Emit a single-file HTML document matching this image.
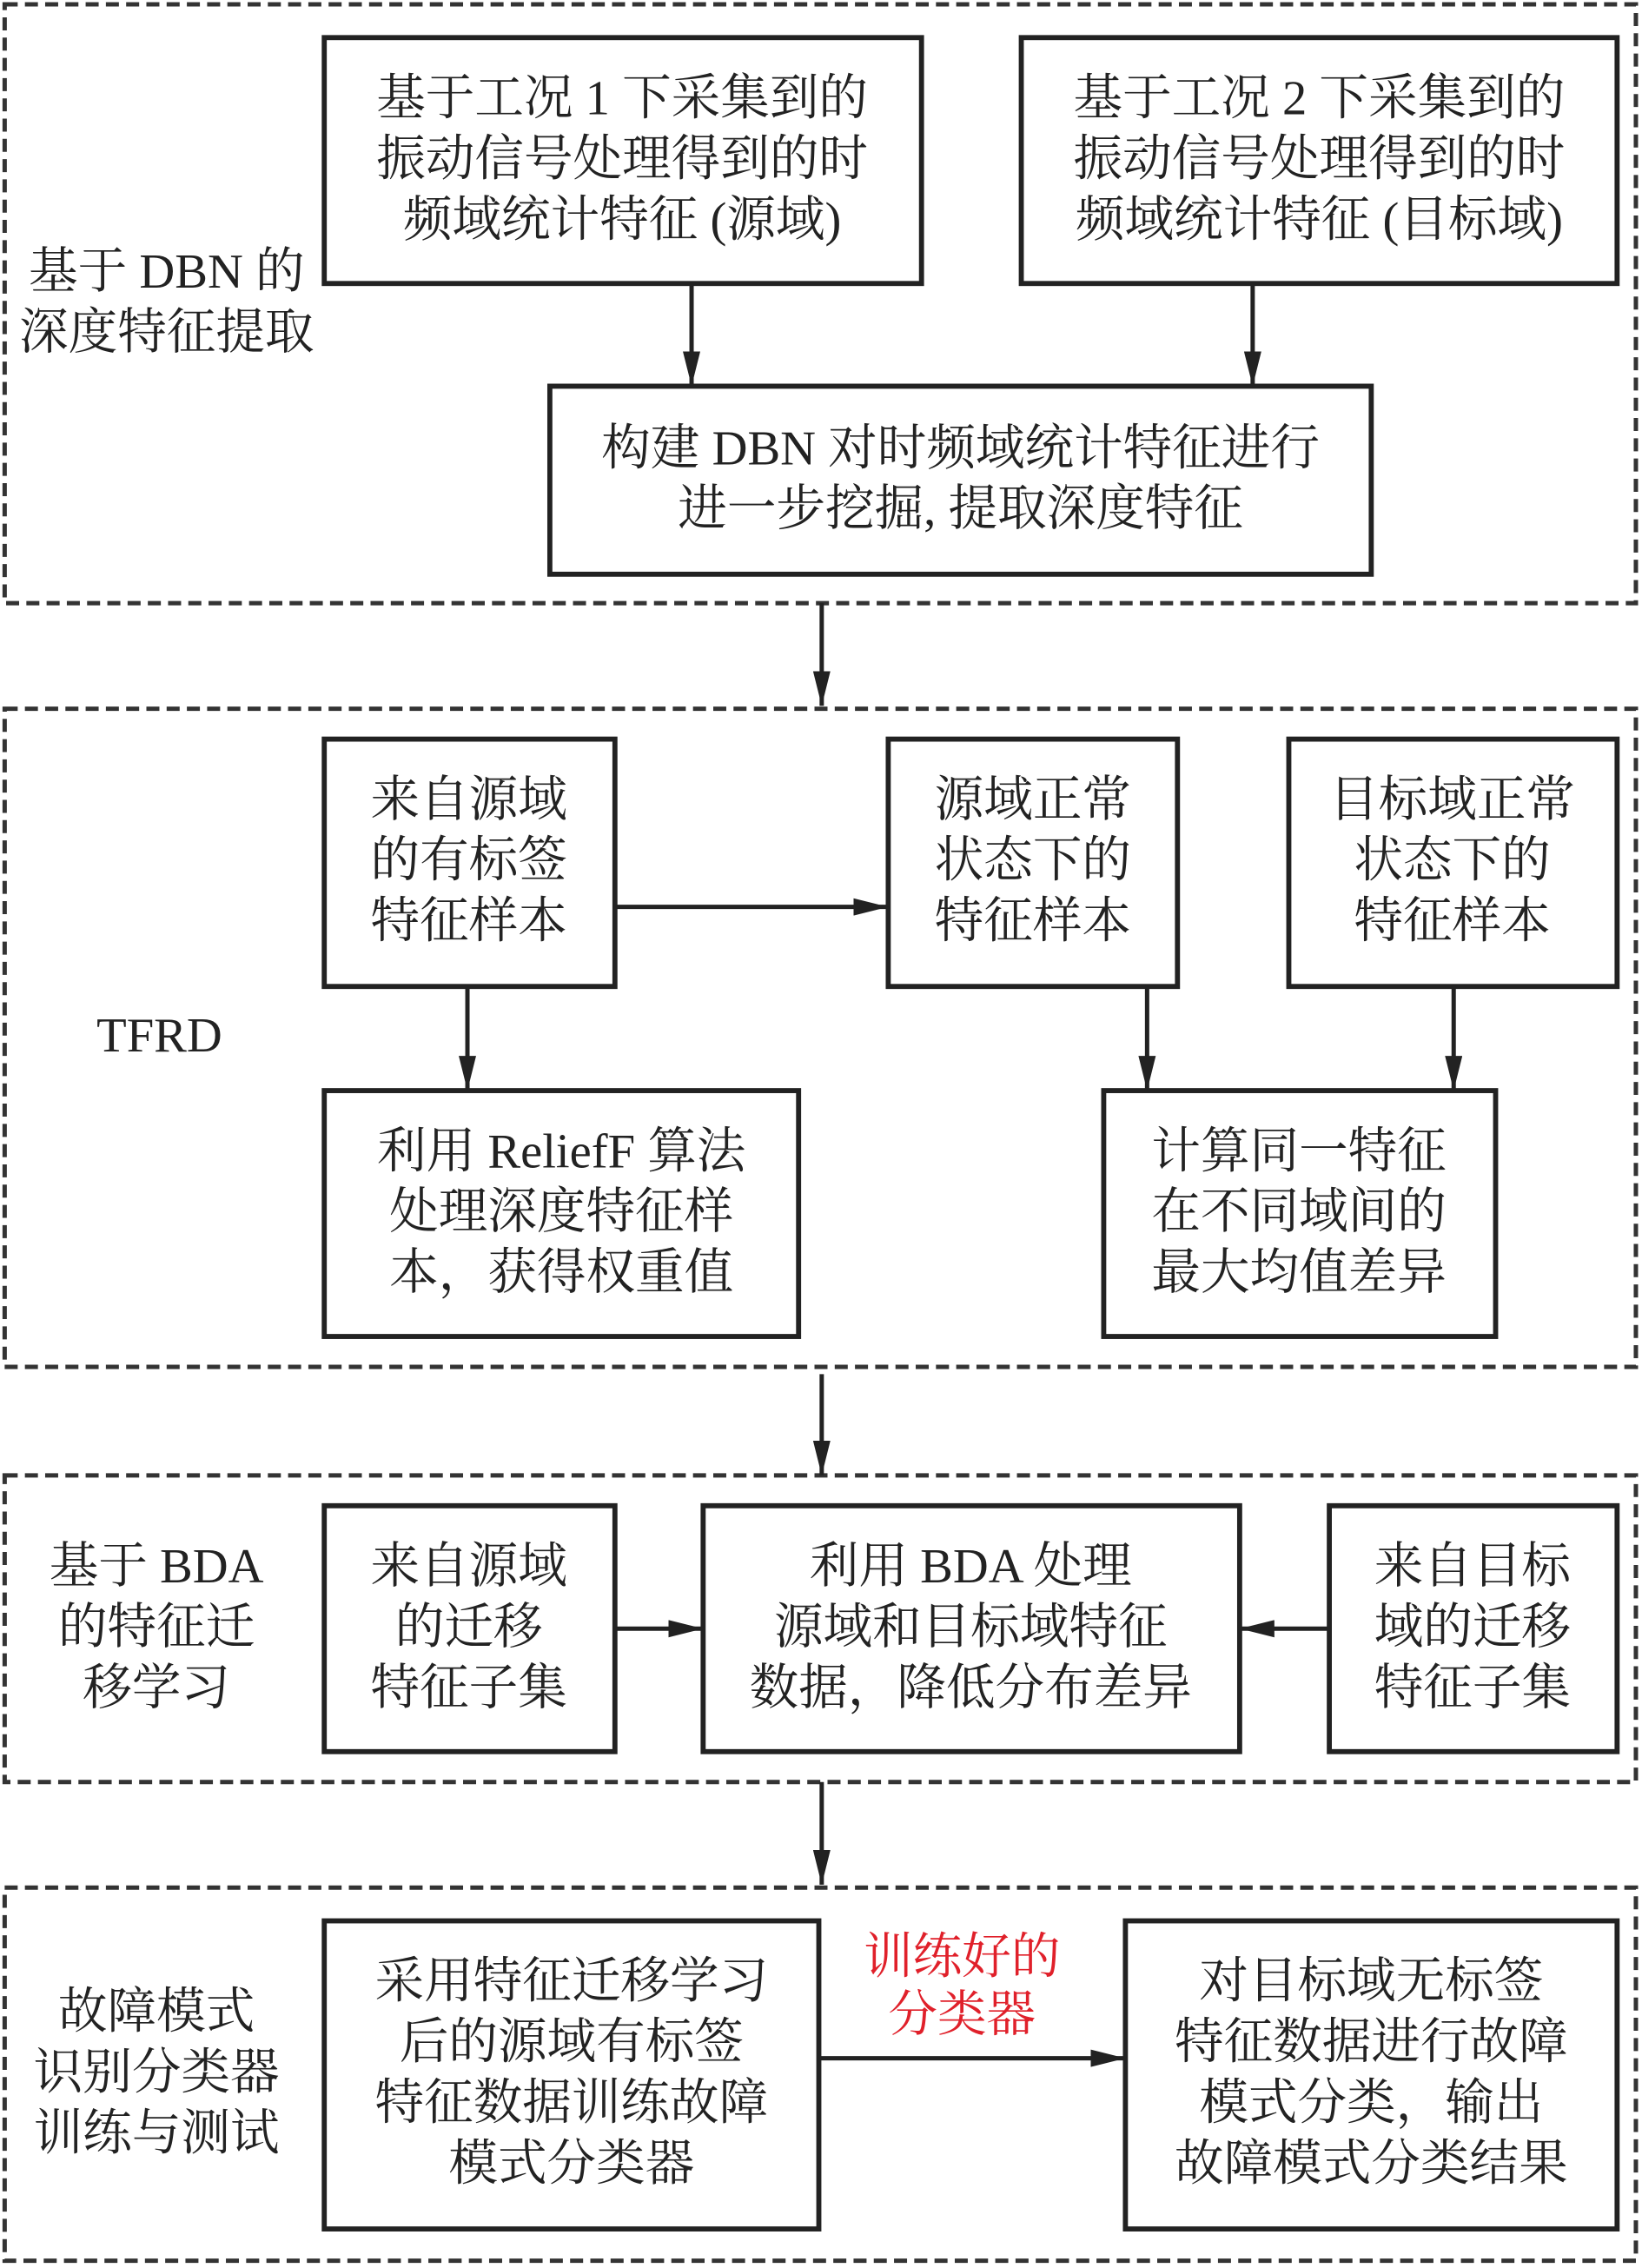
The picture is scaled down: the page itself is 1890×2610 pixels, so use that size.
<!DOCTYPE html>
<html><head><meta charset="utf-8">
<style>
html,body{margin:0;padding:0;background:#fff;}
svg{display:block;}
text{font-family:"Liberation Serif","Noto Serif CJK SC",serif;font-size:34px;fill:#222;text-anchor:middle;}
.red{fill:#e0202a;}
</style></head>
<body>
<svg width="1890" height="2610" viewBox="0 0 1135 1568" xmlns="http://www.w3.org/2000/svg">
<defs>
<marker id="a" viewBox="0 0 24 12" markerWidth="24" markerHeight="12" refX="24" refY="6" orient="auto" markerUnits="userSpaceOnUse">
<path d="M0,0 L24,6 L0,12 z" fill="#222"/>
</marker>
</defs>
<g fill="none" stroke="#333" stroke-width="3" stroke-dasharray="9,5">
<rect x="3" y="3" width="1128" height="414"/>
<rect x="3" y="490" width="1128" height="455"/>
<rect x="3" y="1020" width="1128" height="212"/>
<rect x="3" y="1305" width="1128" height="258"/>
</g>
<g fill="none" stroke="#222" stroke-width="3.5">
<rect x="224" y="26" width="413" height="170"/>
<rect x="706" y="26" width="412" height="170"/>
<rect x="380" y="267" width="568" height="130"/>
<rect x="224" y="511" width="201" height="171"/>
<rect x="614" y="511" width="200" height="171"/>
<rect x="891" y="511" width="227" height="171"/>
<rect x="224" y="754" width="328" height="170"/>
<rect x="763" y="754" width="271" height="170"/>
<rect x="224" y="1041" width="201" height="170"/>
<rect x="486" y="1041" width="371" height="170"/>
<rect x="919" y="1041" width="199" height="170"/>
<rect x="224" y="1328" width="342" height="213"/>
<rect x="778" y="1328" width="340" height="213"/>
</g>
<g stroke="#222" stroke-width="3" marker-end="url(#a)">
<line x1="478" y1="196" x2="478" y2="267"/>
<line x1="866" y1="196" x2="866" y2="267"/>
<line x1="568" y1="417" x2="568" y2="488"/>
<line x1="425" y1="627" x2="614" y2="627"/>
<line x1="323" y1="682" x2="323" y2="754"/>
<line x1="793" y1="682" x2="793" y2="754"/>
<line x1="1005" y1="682" x2="1005" y2="754"/>
<line x1="568" y1="950" x2="568" y2="1020"/>
<line x1="425" y1="1126" x2="486" y2="1126"/>
<line x1="919" y1="1126" x2="857" y2="1126"/>
<line x1="568" y1="1232" x2="568" y2="1303"/>
<line x1="566" y1="1423" x2="778" y2="1423"/>
</g>
<text x="430" y="79">基于工况 1 下采集到的</text>
<text x="430" y="121">振动信号处理得到的时</text>
<text x="430" y="163">频域统计特征 (源域)</text>
<text x="912" y="79">基于工况 2 下采集到的</text>
<text x="912" y="121">振动信号处理得到的时</text>
<text x="912" y="163">频域统计特征 (目标域)</text>
<text x="115" y="199">基于 DBN 的</text>
<text x="115" y="241">深度特征提取</text>
<text x="664" y="321">构建 DBN 对时频域统计特征进行</text>
<text x="664" y="363">进一步挖掘, 提取深度特征</text>
<text x="324" y="564">来自源域</text>
<text x="324" y="606">的有标签</text>
<text x="324" y="648">特征样本</text>
<text x="714" y="564">源域正常</text>
<text x="714" y="606">状态下的</text>
<text x="714" y="648">特征样本</text>
<text x="1004" y="564">目标域正常</text>
<text x="1004" y="606">状态下的</text>
<text x="1004" y="648">特征样本</text>
<text x="110" y="727">TFRD</text>
<text x="388" y="807">利用 ReliefF 算法</text>
<text x="388" y="849">处理深度特征样</text>
<text x="388" y="891">本，获得权重值</text>
<text x="898" y="807">计算同一特征</text>
<text x="898" y="849">在不同域间的</text>
<text x="898" y="891">最大均值差异</text>
<text x="108" y="1094">基于 BDA</text>
<text x="108" y="1136">的特征迁</text>
<text x="108" y="1178">移学习</text>
<text x="324" y="1094">来自源域</text>
<text x="324" y="1136">的迁移</text>
<text x="324" y="1178">特征子集</text>
<text x="671" y="1094">利用 BDA 处理</text>
<text x="671" y="1136">源域和目标域特征</text>
<text x="671" y="1178">数据，降低分布差异</text>
<text x="1018" y="1094">来自目标</text>
<text x="1018" y="1136">域的迁移</text>
<text x="1018" y="1178">特征子集</text>
<text x="108" y="1402">故障模式</text>
<text x="108" y="1444">识别分类器</text>
<text x="108" y="1486">训练与测试</text>
<text x="395" y="1381">采用特征迁移学习</text>
<text x="395" y="1423">后的源域有标签</text>
<text x="395" y="1465">特征数据训练故障</text>
<text x="395" y="1507">模式分类器</text>
<text class="red" x="665" y="1364">训练好的</text>
<text class="red" x="665" y="1404">分类器</text>
<text x="948" y="1381">对目标域无标签</text>
<text x="948" y="1423">特征数据进行故障</text>
<text x="948" y="1465">模式分类，输出</text>
<text x="948" y="1507">故障模式分类结果</text>
</svg>
</body></html>
